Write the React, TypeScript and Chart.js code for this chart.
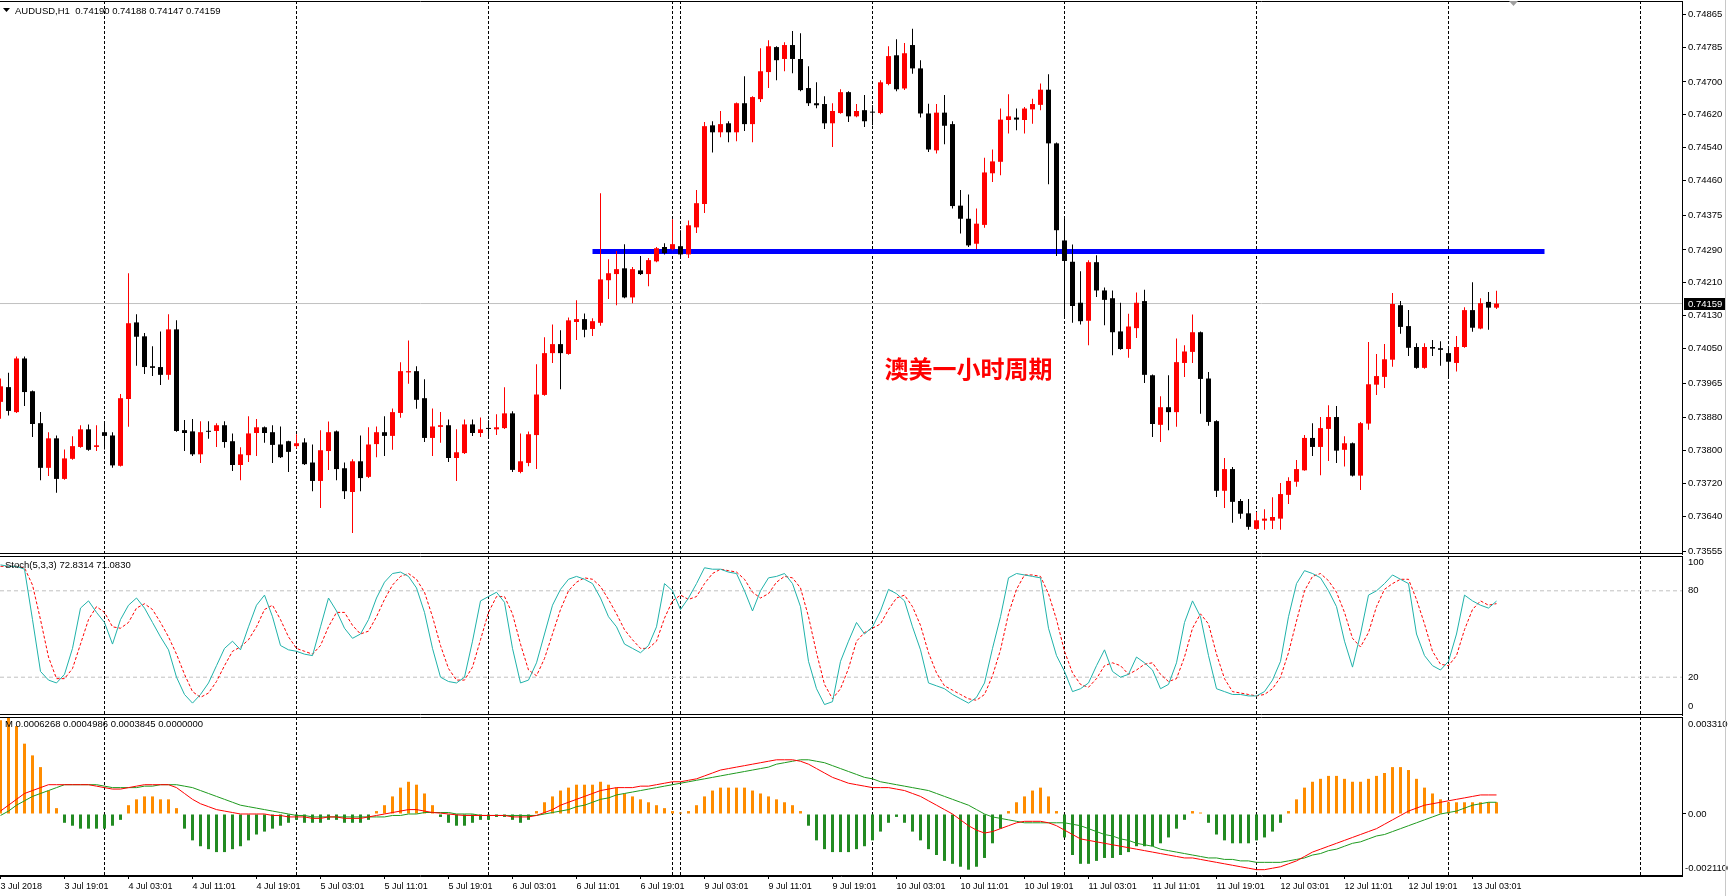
import React, { useEffect, useRef } from 'react';
import { Chart, registerables } from 'chart.js';

Chart.register(...registerables);

// ---------------- data ----------------
const opens = [0.73919,0.73955,0.73894,0.74025,0.73945,0.73867,0.73758,0.7383,0.73731,0.7378,
0.73809,0.73852,0.73809,0.73845,0.73837,0.73763,0.73926,0.74113,0.74079,0.74006,
0.74004,0.73985,0.74096,0.7385,0.73847,0.73791,0.73847,0.73848,0.73862,0.73823,
0.73765,0.73789,0.73843,0.73857,0.73845,0.73815,0.73823,0.73811,0.7382,0.73771,
0.73726,0.73799,0.73847,0.73757,0.73699,0.73774,0.73736,0.73816,0.73845,0.73836,
0.73892,0.73991,0.73994,0.73928,0.73831,0.73858,0.73862,0.73782,0.73794,0.73864,
0.73843,0.73854,0.73852,0.73855,0.73891,0.73748,0.7377,0.73838,0.73936,0.74038,
0.7406,0.74036,0.74114,0.74121,0.74097,0.74112,0.74216,0.74231,0.74245,0.74174,
0.7424,0.74231,0.74262,0.74297,0.74292,0.74299,0.74279,0.74345,0.74402,0.74594,
0.74577,0.74599,0.74577,0.74648,0.74597,0.74658,0.74724,0.74785,0.74756,0.7479,
0.74756,0.74685,0.74648,0.74646,0.74599,0.74624,0.74675,0.74616,0.74631,0.74627,
0.74624,0.74695,0.74765,0.74684,0.7479,0.74733,0.74623,0.74533,0.74625,0.74597,
0.74398,0.74366,0.74305,0.74351,0.74477,0.74505,0.74607,0.74613,0.74607,0.74633,
0.74644,0.74681,0.7455,0.74313,0.74261,0.74161,0.74117,0.7426,0.74191,0.74172,
0.74091,0.74048,0.74099,0.74165,0.73984,0.73863,0.73906,0.73894,0.74014,0.74041,
0.74089,0.73976,0.73872,0.73702,0.73755,0.73677,0.73647,0.73609,0.73629,0.73629,
0.73634,0.73692,0.73724,0.73752,0.73831,0.73809,0.73853,0.73882,0.73802,0.73818,
0.73739,0.73866,0.73961,0.7398,0.74022,0.74155,0.74104,0.74053,0.74002,0.74053,
0.7405,0.74038,0.74014,0.74053,0.74143,0.74098,0.74163,0.74149];

const highs = [0.73976,0.7399,0.7403,0.7403,0.73947,0.73894,0.73845,0.73837,0.73803,0.73835,
0.73862,0.73864,0.73862,0.73869,0.73845,0.73938,0.74233,0.74133,0.74087,0.74055,
0.74091,0.74133,0.74118,0.73875,0.73877,0.73872,0.73872,0.73867,0.73872,0.73842,
0.73808,0.73884,0.73877,0.73859,0.73862,0.73859,0.73824,0.7384,0.7383,0.73815,
0.7385,0.73871,0.73849,0.73771,0.73779,0.73837,0.73857,0.73859,0.73884,0.73903,
0.74016,0.74069,0.74006,0.73974,0.73903,0.73894,0.73876,0.73852,0.73876,0.73876,
0.73881,0.73874,0.73889,0.73955,0.73896,0.73842,0.73847,0.74011,0.74077,0.74108,
0.74094,0.74125,0.74167,0.74135,0.74123,0.74428,0.74267,0.74287,0.74304,0.74248,
0.74275,0.7427,0.74297,0.74306,0.74365,0.74338,0.74362,0.74436,0.74602,0.74604,
0.74629,0.74604,0.7465,0.74714,0.74665,0.74782,0.74802,0.74787,0.74797,0.74824,
0.74819,0.74738,0.74699,0.74665,0.74648,0.74682,0.74677,0.74646,0.74668,0.74643,
0.74704,0.74787,0.74804,0.74795,0.7483,0.74753,0.74647,0.74646,0.74668,0.74604,
0.74436,0.74425,0.74391,0.74515,0.74535,0.74635,0.7467,0.74635,0.74639,0.74659,
0.74696,0.74719,0.74552,0.74366,0.74303,0.74238,0.74265,0.74277,0.74198,0.74191,
0.74161,0.74134,0.74186,0.74193,0.73986,0.73933,0.73984,0.74074,0.74057,0.74132,
0.74091,0.73992,0.73874,0.73782,0.7376,0.73682,0.73682,0.7365,0.73657,0.73686,
0.73721,0.73735,0.73777,0.73838,0.73867,0.73882,0.73911,0.73909,0.73835,0.7382,
0.7387,0.74065,0.74036,0.7406,0.74185,0.74165,0.74143,0.74062,0.74062,0.7407,
0.74067,0.74048,0.7408,0.7415,0.74211,0.74172,0.74187,0.7419];

const lows = [0.73878,0.73886,0.73892,0.73909,0.73833,0.73728,0.73738,0.73697,0.73729,0.73778,
0.73807,0.738,0.73799,0.73803,0.73758,0.73761,0.73858,0.74007,0.73987,0.73982,
0.7396,0.73973,0.73846,0.73799,0.73787,0.7377,0.73829,0.73809,0.73807,0.7375,
0.73728,0.73772,0.73787,0.73819,0.7377,0.73782,0.73748,0.73805,0.73765,0.73701,
0.7366,0.73753,0.73728,0.73682,0.73599,0.73701,0.73733,0.73784,0.73787,0.73802,
0.7388,0.73963,0.73902,0.73821,0.73787,0.73819,0.73772,0.73726,0.73792,0.73836,
0.73833,0.73833,0.73838,0.73853,0.73748,0.73745,0.73762,0.73755,0.73934,0.74014,
0.7395,0.74034,0.7407,0.74077,0.7408,0.74105,0.7417,0.74155,0.74172,0.7416,
0.74229,0.74201,0.7426,0.74279,0.74289,0.74272,0.7427,0.74331,0.7438,0.74528,
0.74565,0.74553,0.74555,0.7458,0.74553,0.74651,0.74685,0.74704,0.74726,0.74721,
0.74677,0.74641,0.74636,0.74585,0.74541,0.74622,0.74602,0.74614,0.7459,0.74594,
0.74621,0.74692,0.74677,0.7468,0.7472,0.74613,0.74529,0.74525,0.74548,0.74391,
0.7433,0.74297,0.74292,0.74344,0.74456,0.74472,0.74574,0.74582,0.74574,0.74598,
0.74631,0.7445,0.74275,0.74124,0.74112,0.74108,0.74057,0.74175,0.74106,0.74033,
0.74046,0.74027,0.74075,0.73965,0.73833,0.73821,0.7385,0.73858,0.7398,0.74014,
0.7389,0.73861,0.73687,0.7366,0.73624,0.73634,0.73607,0.73607,0.73607,0.73609,
0.73607,0.7367,0.73712,0.73751,0.73787,0.7374,0.73775,0.7377,0.73761,0.73737,
0.73704,0.73851,0.73936,0.73953,0.74005,0.74085,0.74031,0.74,0.74,0.74031,
0.74007,0.73979,0.73993,0.74051,0.7409,0.74096,0.74095,0.74146];

const closes = [0.73957,0.73897,0.74025,0.73943,0.73865,0.73758,0.7383,0.73731,0.73781,0.73811,
0.73852,0.73802,0.73813,0.73836,0.73764,0.73928,0.74111,0.74078,0.74004,0.74002,
0.73985,0.74096,0.73848,0.73843,0.73791,0.73845,0.73846,0.73862,0.73821,0.73765,
0.73791,0.73842,0.73857,0.73843,0.73814,0.73784,0.73797,0.73818,0.73767,0.73726,
0.73801,0.73845,0.73755,0.73701,0.73774,0.73733,0.73815,0.73845,0.73836,0.73894,
0.73994,0.73994,0.73924,0.73831,0.73859,0.73862,0.73782,0.73796,0.73864,0.73843,
0.73852,0.73853,0.73857,0.73891,0.73753,0.73774,0.7384,0.73937,0.74038,0.7406,
0.74038,0.74118,0.74121,0.74095,0.74116,0.74218,0.74233,0.74243,0.74174,0.74243,
0.74231,0.74265,0.74294,0.74282,0.74304,0.74279,0.7435,0.74404,0.74592,0.74577,
0.74597,0.74577,0.74648,0.74597,0.74663,0.74726,0.74787,0.74753,0.7479,0.74756,
0.7468,0.74648,0.74643,0.74599,0.74629,0.74675,0.74616,0.74629,0.74604,0.74625,
0.74699,0.74763,0.74682,0.7477,0.74733,0.74623,0.74535,0.74625,0.74593,0.74397,
0.74366,0.74301,0.74354,0.74479,0.74506,0.74608,0.74616,0.74608,0.74635,0.74646,
0.74681,0.7455,0.74338,0.74263,0.74153,0.74116,0.7426,0.74191,0.74168,0.74089,
0.74048,0.74103,0.74161,0.73985,0.73865,0.73906,0.73894,0.74016,0.74042,0.74089,
0.73975,0.7387,0.73702,0.73755,0.73675,0.73646,0.73614,0.7363,0.73634,0.73638,
0.73694,0.73726,0.73755,0.73831,0.73809,0.73855,0.73882,0.738,0.73818,0.73739,
0.73867,0.73962,0.73982,0.74023,0.74158,0.74102,0.74051,0.74002,0.74053,0.74049,
0.74046,0.74017,0.74053,0.74143,0.741,0.7416,0.74149,0.74159];

const stochMain = [98,97,97,95,60,24,18,16,22,40,
68,73,65,58,43,60,70,75,68,58,
48,39,20,8,2,8,16,28,40,45,
39,55,70,77,62,42,39,38,36,35,
55,75,66,54,47,50,60,75,86,92,
93,90,82,65,40,20,17,16,20,45,
73,76,79,72,40,16,18,30,50,70,
81,88,90,88,85,75,62,55,43,40,
37,42,55,85,80,67,75,85,96,95,
95,93,92,80,66,80,89,90,92,85,
69,31,12,1,3,31,45,58,50,55,
66,81,78,73,55,39,16,14,12,8,
5,2,6,16,40,62,89,92,91,90,
89,54,35,24,10,12,16,28,39,24,
20,22,34,30,25,12,15,30,58,73,
62,35,12,10,8,8,7,7,10,18,
31,62,85,94,92,89,80,69,45,27,
50,77,80,85,91,88,85,50,35,28,
25,31,50,77,73,70,68,72.83];

const stochSignal = [97,97,97,96,84,60,34,19,19,26,
43,60,69,65,55,54,58,68,71,67,
58,48,36,22,10,6,9,17,28,38,
41,46,55,67,70,60,48,40,38,36,
42,55,65,65,56,50,52,62,74,84,
90,92,88,79,62,42,26,18,18,27,
46,65,76,76,64,43,25,21,33,50,
67,80,86,89,88,83,74,64,53,46,
40,40,45,61,73,77,74,76,85,92,
95,94,93,88,79,75,78,86,90,89,
82,62,37,15,5,12,26,45,51,54,
57,67,75,77,69,56,37,23,14,11,
8,5,4,8,21,39,64,81,91,91,
90,78,60,38,23,15,13,19,28,30,
28,22,25,29,30,22,17,19,34,54,
64,57,36,19,10,9,8,7,8,12,
20,37,59,80,90,92,87,79,65,47,
41,51,69,81,85,88,88,74,57,38,
29,28,35,53,67,73,70,71.08];

const macdHist = [0.0032,0.0033,0.003,0.0024,0.002,0.0016,0.0008,0.0002,-0.0003,-0.0004,
-0.0005,-0.0005,-0.0005,-0.0005,-0.0004,-0.0002,0.0003,0.0005,0.0006,0.0006,
0.0005,0.0005,0.0002,-0.0005,-0.0009,-0.0011,-0.0012,-0.0013,-0.0013,-0.0012,
-0.0011,-0.0009,-0.0007,-0.0006,-0.0005,-0.0004,-0.0003,-0.0002,-0.0003,-0.0003,
-0.0003,-0.0002,-0.0002,-0.0003,-0.0003,-0.0003,-0.0002,0.0001,0.0003,0.0006,
0.0009,0.0011,0.001,0.0007,0.0003,-0.0001,-0.0003,-0.0004,-0.0004,-0.0003,
-0.0002,-0.0002,-0.0001,-0.0001,-0.0002,-0.0003,-0.0002,0.0001,0.0004,0.0006,
0.0008,0.0009,0.001,0.001,0.001,0.0011,0.001,0.0009,0.0007,0.0006,
0.0005,0.0004,0.0003,0.0002,0.0001,0.00005,0.0001,0.0003,0.0006,0.0008,
0.0009,0.0009,0.0009,0.0009,0.0008,0.0007,0.0006,0.0005,0.0004,0.0003,
0.0001,-0.0004,-0.0009,-0.0012,-0.0013,-0.0013,-0.0013,-0.0012,-0.0011,-0.0009,
-0.0006,-0.0003,-0.0001,-0.0003,-0.0006,-0.0009,-0.0012,-0.0014,-0.0016,-0.0017,
-0.0018,-0.0019,-0.0018,-0.0015,-0.001,-0.0005,0.0001,0.0004,0.0006,0.0008,
0.0009,0.0006,0.0001,-0.0008,-0.0014,-0.0017,-0.0017,-0.0016,-0.0015,-0.0015,
-0.0014,-0.0013,-0.0011,-0.0011,-0.0011,-0.001,-0.0008,-0.0005,-0.0002,0.0001,
0.00005,-0.0003,-0.0007,-0.0009,-0.001,-0.001,-0.001,-0.0009,-0.0008,-0.0006,
-0.0003,0.0001,0.0005,0.0009,0.0011,0.0012,0.0013,0.0013,0.0012,0.0011,
0.0011,0.0012,0.0013,0.0014,0.0016,0.0016,0.0015,0.0012,0.0009,0.0007,
0.0005,0.0004,0.0004,0.0004,0.0004,0.0004,0.0004,0.0004];

const macdMain = [0.0001,0.0003,0.0005,0.0007,0.0008,0.0009,0.001,0.001,0.001,0.001,
0.001,0.001,0.00095,0.0009,0.00085,0.00085,0.0009,0.00095,0.001,0.001,
0.001,0.001,0.0009,0.0007,0.0005,0.00035,0.00025,0.00015,0.0001,0.00005,
0,0,0,0,-0.00005,-0.00005,-0.0001,-0.0001,-0.0001,-0.00015,
-0.00015,-0.0001,-0.0001,-0.00015,-0.00015,-0.00015,-0.0001,-0.00005,0,0.00005,
0.0001,0.00015,0.00015,0.0001,0.00005,0.00003,0,-0.00003,-0.00005,-0.00005,
-0.00005,-0.00005,-0.00005,-0.00005,-0.0001,-0.0001,-0.0001,-0.00005,0.00005,0.00015,
0.0003,0.0004,0.0005,0.0006,0.0007,0.0008,0.00085,0.0009,0.0009,0.0009,
0.00095,0.00095,0.001,0.00105,0.0011,0.0011,0.00115,0.0012,0.0013,0.0014,
0.0015,0.00155,0.0016,0.00165,0.0017,0.00175,0.0018,0.00185,0.00185,0.00185,
0.0018,0.0017,0.00155,0.0014,0.00125,0.00115,0.00105,0.001,0.00095,0.0009,
0.0009,0.0009,0.00085,0.0008,0.0007,0.0006,0.00045,0.0003,0.00015,0,
-0.0002,-0.0004,-0.00055,-0.00065,-0.0006,-0.0005,-0.0004,-0.0003,-0.00025,-0.00025,
-0.00025,-0.0003,-0.0004,-0.00055,-0.0007,-0.00085,-0.0009,-0.00095,-0.001,-0.00105,
-0.0011,-0.00115,-0.0012,-0.00125,-0.0013,-0.00135,-0.0014,-0.00145,-0.0015,-0.0015,
-0.00155,-0.0016,-0.00165,-0.0017,-0.00175,-0.0018,-0.00185,-0.0019,-0.0019,-0.00185,
-0.0018,-0.0017,-0.0016,-0.00145,-0.0013,-0.0012,-0.0011,-0.001,-0.0009,-0.0008,
-0.0007,-0.0006,-0.0005,-0.00035,-0.0002,-0.00005,0.0001,0.0002,0.0003,0.00035,
0.0004,0.00045,0.0005,0.00055,0.0006,0.00065,0.00065,0.00065];

const macdSignal = [-0.00005,0.0001,0.0003,0.00045,0.0006,0.0007,0.0008,0.0009,0.001,0.001,
0.001,0.001,0.001,0.00095,0.0009,0.0009,0.0009,0.0009,0.00095,0.00095,
0.001,0.001,0.001,0.00095,0.0009,0.0008,0.0007,0.0006,0.0005,0.0004,
0.0003,0.00025,0.0002,0.00015,0.0001,0.00005,0,-0.00005,-0.00005,-0.0001,
-0.0001,-0.0001,-0.0001,-0.0001,-0.0001,-0.0001,-0.0001,-0.0001,-0.0001,-0.00005,
-0.00005,0,0,0.00005,0.00005,0.00005,0.00005,0,0,0,
-0.00005,-0.00005,-0.00005,-0.00005,-0.00005,-0.00005,-0.00005,-0.00005,0,0.00005,
0.0001,0.00015,0.00025,0.0003,0.0004,0.0005,0.00055,0.00065,0.0007,0.00075,
0.0008,0.00085,0.0009,0.00095,0.001,0.00105,0.0011,0.00115,0.0012,0.00125,
0.0013,0.00135,0.0014,0.00145,0.0015,0.00155,0.0016,0.0017,0.00175,0.0018,
0.00185,0.00185,0.0018,0.00175,0.00165,0.00155,0.00145,0.00135,0.00125,0.0012,
0.0011,0.00105,0.001,0.00095,0.0009,0.00085,0.0008,0.0007,0.0006,0.0005,
0.0004,0.0003,0.00015,0,-0.0001,-0.00015,-0.0002,-0.00025,-0.0003,-0.0003,
-0.0003,-0.0003,-0.0003,-0.0003,-0.00035,-0.0004,-0.0005,-0.0006,-0.0007,-0.00075,
-0.00085,-0.0009,-0.001,-0.00105,-0.0011,-0.0012,-0.00125,-0.0013,-0.00135,-0.0014,
-0.00145,-0.0015,-0.0015,-0.00155,-0.00155,-0.0016,-0.0016,-0.00165,-0.00165,-0.00165,
-0.00165,-0.0016,-0.00155,-0.0015,-0.0014,-0.00135,-0.00125,-0.0012,-0.0011,-0.001,
-0.00095,-0.00085,-0.00075,-0.0007,-0.0006,-0.0005,-0.0004,-0.0003,-0.0002,-0.0001,
0,0.00005,0.0001,0.0002,0.0003,0.00035,0.0004,0.0004];

const priceTicks = [0.74865,0.74785,0.747,0.7462,0.7454,0.7446,0.74375,0.7429,0.7421,0.7413,0.7405,0.73965,0.7388,0.738,0.7372,0.7364,0.73555];
const stochTicks = [0, 20, 80, 100];
const stochLevels = [20, 80];
const macdTicks = [0];
const timeLabels = ['3 Jul 2018','3 Jul 19:01','4 Jul 03:01','4 Jul 11:01','4 Jul 19:01','5 Jul 03:01','5 Jul 11:01','5 Jul 19:01','6 Jul 03:01','6 Jul 11:01','6 Jul 19:01','9 Jul 03:01','9 Jul 11:01','9 Jul 19:01','10 Jul 03:01','10 Jul 11:01','10 Jul 19:01','11 Jul 03:01','11 Jul 11:01','11 Jul 19:01','12 Jul 03:01','12 Jul 11:01','12 Jul 19:01','13 Jul 03:01'];
const timeLabelBars = [0,8,16,24,32,40,48,56,64,72,80,88,96,104,112,120,128,136,144,152,160,168,176,184];
const daySeparators = [13,37,61,84,85,109,133,157,181,205];
const bidPrice = 0.74159;
const trendBars = [74, 193];
const trendPrice = 0.74286;
const noteText = '澳美一小时周期';
const noteBar = 110.5;
const notePrice = 0.74;
const headerText = 'AUDUSD,H1  0.74190 0.74188 0.74147 0.74159';
const stochText = 'Stoch(5,3,3) 72.8314 71.0830';
const macdText = 'M 0.0006268 0.0004986 0.0003845 0.0000000';
const macdMaxLabel = '0.0033100';
const macdMinLabel = '-0.0021100';

// ---------------- layout / style ----------------
const CANVAS_W = 1728;
const AXIS_W = 46;
const BAR_PX = 8;
const X_MIN = -1 / 16;
const X_MAX = X_MIN + (CANVAS_W - AXIS_W) / BAR_PX;
const FONT = '"Liberation Sans", Arial, sans-serif';
const UP = '#FF0000';
const DOWN = '#000000';

const PRICE_MIN = 0.735477;
const PRICE_MAX = 0.748975;
const STOCH_MIN = -6.25;
const STOCH_MAX = 104.17;
const MACD_MIN = -0.002116;
const MACD_MAX = 0.00331;

function xScale(show: boolean): any {
  return {
    type: 'linear',
    min: X_MIN,
    max: X_MAX,
    offset: false,
    display: show,
    afterFit: (s: any) => {
      s.paddingLeft = 0;
      s.paddingRight = 0;
      if (show) s.height = 20;
    },
    afterBuildTicks: (s: any) => {
      s.ticks = timeLabelBars.map((v) => ({ value: v }));
    },
    grid: { display: show, offset: false, drawOnChartArea: false, drawTicks: true, tickLength: 3, color: '#000' },
    border: { display: show, color: '#000', width: 1 },
    ticks: {
      autoSkip: false,
      maxRotation: 0,
      minRotation: 0,
      align: 'start',
      padding: 2,
      color: '#000',
      font: { family: FONT, size: 9 },
      callback: (_v: any, idx: number) => timeLabels[idx],
    },
  };
}

function yScale(min: number, max: number, ticks: number[], fmt: (v: number) => string, tickMarks: boolean): any {
  return {
    position: 'right',
    min,
    max,
    afterFit: (s: any) => {
      s.width = AXIS_W;
      s.paddingTop = 0;
      s.paddingBottom = 0;
    },
    afterBuildTicks: (s: any) => {
      s.ticks = ticks.map((v) => ({ value: v }));
    },
    grid: { drawOnChartArea: false, drawTicks: tickMarks, tickLength: 4, color: '#000' },
    border: { display: true, color: '#000', width: 1 },
    ticks: {
      autoSkip: false,
      crossAlign: 'near',
      padding: tickMarks ? 2 : 6,
      color: '#000',
      font: { family: FONT, size: 9.5 },
      callback: (v: any) => fmt(Number(v)),
    },
  };
}

const separatorPlugin = {
  id: 'mt4Separators',
  beforeDatasetsDraw(chart: any) {
    const { ctx, chartArea: a, scales } = chart;
    ctx.save();
    ctx.beginPath();
    ctx.rect(a.left, a.top, a.right - a.left, a.bottom - a.top);
    ctx.clip();
    ctx.strokeStyle = '#000';
    ctx.lineWidth = 1;
    ctx.setLineDash([3, 2]);
    for (const b of daySeparators) {
      const x = Math.floor(scales.x.getPixelForValue(b)) + 0.5;
      ctx.beginPath();
      ctx.moveTo(x, a.top);
      ctx.lineTo(x, a.bottom);
      ctx.stroke();
    }
    ctx.restore();
  },
};

const framePlugin = {
  id: 'mt4Frame',
  afterDraw(chart: any) {
    const { ctx, chartArea: a } = chart;
    ctx.save();
    ctx.strokeStyle = '#000';
    ctx.lineWidth = 1;
    ctx.beginPath();
    ctx.moveTo(0, Math.round(a.top) + 0.5);
    ctx.lineTo(a.right, Math.round(a.top) + 0.5);
    ctx.moveTo(0, Math.round(a.bottom) - 0.5);
    ctx.lineTo(a.right, Math.round(a.bottom) - 0.5);
    ctx.stroke();
    ctx.restore();
  },
};

function headerPlugin(text: string, y: number, x: number, arrow: boolean) {
  return {
    id: 'mt4Header' + text.length,
    afterDraw(chart: any) {
      const { ctx } = chart;
      ctx.save();
      ctx.fillStyle = '#000';
      if (arrow) {
        ctx.beginPath();
        ctx.moveTo(3, y - 3);
        ctx.lineTo(10, y - 3);
        ctx.lineTo(6.5, y + 1);
        ctx.closePath();
        ctx.fill();
      }
      ctx.font = `9.5px ${FONT}`;
      ctx.textBaseline = 'middle';
      ctx.textAlign = 'left';
      ctx.fillText(text, x, y);
      ctx.restore();
    },
  };
}

const priceOverlayPlugin = {
  id: 'priceOverlay',
  afterDraw(chart: any) {
    const { ctx, scales, chartArea: a } = chart;
    ctx.save();
    // annotation text
    ctx.font = `bold 24px "Noto Sans CJK SC", sans-serif`;
    ctx.fillStyle = '#FF0000';
    ctx.textBaseline = 'middle';
    ctx.textAlign = 'left';
    ctx.fillText(noteText, scales.x.getPixelForValue(noteBar), scales.y.getPixelForValue(notePrice));
    // bid label on the axis
    const by = scales.y.getPixelForValue(bidPrice);
    ctx.fillStyle = '#000';
    ctx.fillRect(a.right + 2, Math.round(by) - 6, 42, 12);
    ctx.fillStyle = '#fff';
    ctx.font = `9.5px ${FONT}`;
    ctx.fillText(bidPrice.toFixed(5), a.right + 6, Math.round(by));
    // chart shift marker
    ctx.fillStyle = '#A0A0A0';
    ctx.beginPath();
    ctx.moveTo(1509, 1);
    ctx.lineTo(1518, 1);
    ctx.lineTo(1513.5, 6);
    ctx.closePath();
    ctx.fill();
    ctx.restore();
  },
};

const macdOverlayPlugin = {
  id: 'macdOverlay',
  afterDraw(chart: any) {
    const { ctx, chartArea: a } = chart;
    ctx.save();
    ctx.fillStyle = '#000';
    ctx.font = `9.5px ${FONT}`;
    ctx.textAlign = 'left';
    ctx.textBaseline = 'middle';
    ctx.fillText(macdMaxLabel, a.right + 6, a.top + 7);
    ctx.fillText(macdMinLabel, a.right + 3, a.bottom - 8);
    ctx.restore();
  },
};

const baseOptions = (padBottom: number): any => ({
  responsive: false,
  animation: false,
  events: [],
  layout: { padding: { top: 1, bottom: padBottom, left: 0, right: 0 } },
  plugins: { legend: { display: false }, tooltip: { enabled: false }, title: { display: false } },
});

export default function App() {
  const priceRef = useRef<HTMLCanvasElement>(null);
  const stochRef = useRef<HTMLCanvasElement>(null);
  const macdRef = useRef<HTMLCanvasElement>(null);

  useEffect(() => {
    const charts: any[] = [];
    const candleColors = opens.map((o, i) => (closes[i] >= o ? UP : DOWN));

    charts.push(
      new Chart(priceRef.current as HTMLCanvasElement, {
        type: 'bar',
        data: {
          datasets: [
            {
              type: 'bar',
              label: 'body',
              data: opens.map((o, i) => ({ x: i, y: [o, closes[i]] })) as any,
              backgroundColor: candleColors,
              borderWidth: 0,
              barThickness: 5,
              minBarLength: 1,
              grouped: false,
              inflateAmount: 0,
              order: 0,
            } as any,
            {
              type: 'bar',
              label: 'wick',
              data: lows.map((l, i) => ({ x: i, y: [l, highs[i]] })) as any,
              backgroundColor: candleColors,
              borderWidth: 0,
              barThickness: 1,
              grouped: false,
              inflateAmount: 0,
              order: 1,
            } as any,
            {
              type: 'line',
              label: 'trend',
              data: trendBars.map((b) => ({ x: b, y: trendPrice })),
              borderColor: '#0000FF',
              borderWidth: 5,
              pointRadius: 0,
              order: 2,
            } as any,
            {
              type: 'line',
              label: 'bid',
              data: [{ x: X_MIN, y: bidPrice }, { x: X_MAX, y: bidPrice }],
              borderColor: '#C0C0C0',
              borderWidth: 1,
              pointRadius: 0,
              order: 3,
            } as any,
          ],
        },
        options: {
          ...baseOptions(1),
          scales: {
            x: xScale(false),
            y: yScale(PRICE_MIN, PRICE_MAX, priceTicks, (v) => v.toFixed(5), true),
          },
        },
        plugins: [separatorPlugin, framePlugin, priceOverlayPlugin, headerPlugin(headerText, 11, 15, true)],
      } as any)
    );

    charts.push(
      new Chart(stochRef.current as HTMLCanvasElement, {
        type: 'line',
        data: {
          datasets: [
            {
              label: 'main',
              data: stochMain.map((v, i) => ({ x: i, y: v })),
              borderColor: '#20B2AA',
              borderWidth: 1,
              pointRadius: 0,
              tension: 0,
              order: 0,
            },
            {
              label: 'signal',
              data: stochSignal.map((v, i) => ({ x: i, y: v })),
              borderColor: '#FF0000',
              borderWidth: 1,
              borderDash: [3, 2],
              pointRadius: 0,
              tension: 0,
              order: 1,
            },
            ...stochLevels.map((lv) => ({
              label: 'level' + lv,
              data: [{ x: X_MIN, y: lv }, { x: X_MAX, y: lv }],
              borderColor: '#C0C0C0',
              borderWidth: 1,
              borderDash: [4, 3],
              pointRadius: 0,
              order: 5,
            })),
          ],
        },
        options: {
          ...baseOptions(1),
          scales: {
            x: xScale(false),
            y: yScale(STOCH_MIN, STOCH_MAX, stochTicks, (v) => String(Math.round(v)), false),
          },
        },
        plugins: [separatorPlugin, framePlugin, headerPlugin(stochText, 10, 5, false)],
      } as any)
    );

    charts.push(
      new Chart(macdRef.current as HTMLCanvasElement, {
        type: 'bar',
        data: {
          datasets: [
            {
              type: 'line',
              label: 'main',
              data: macdMain.map((v, i) => ({ x: i, y: v })),
              borderColor: '#FF0000',
              borderWidth: 1,
              pointRadius: 0,
              tension: 0,
              order: 0,
            } as any,
            {
              type: 'line',
              label: 'signal',
              data: macdSignal.map((v, i) => ({ x: i, y: v })),
              borderColor: '#1E9A1E',
              borderWidth: 1,
              pointRadius: 0,
              tension: 0,
              order: 1,
            } as any,
            {
              type: 'bar',
              label: 'hist',
              data: macdHist.map((v, i) => ({ x: i, y: v })),
              backgroundColor: macdHist.map((v) => (v >= 0 ? '#FF8C00' : '#228B22')),
              borderWidth: 0,
              barThickness: 3,
              grouped: false,
              inflateAmount: 0,
              order: 2,
            } as any,
          ],
        },
        options: {
          ...baseOptions(0),
          scales: {
            x: xScale(true),
            y: yScale(MACD_MIN, MACD_MAX, macdTicks, () => '0.00', true),
          },
        },
        plugins: [separatorPlugin, framePlugin, macdOverlayPlugin, headerPlugin(macdText, 8, 5, false)],
      } as any)
    );

    return () => {
      charts.forEach((c) => c.destroy());
    };
  }, []);

  return (
    <div style={{ position: 'fixed', left: 0, top: 0, width: 1728, height: 896, background: '#fff', overflow: 'hidden' }}>
      <canvas ref={priceRef} width={1728} height={555} style={{ position: 'absolute', left: 0, top: 0 }} />
      <canvas ref={stochRef} width={1728} height={161} style={{ position: 'absolute', left: 0, top: 555 }} />
      <canvas ref={macdRef} width={1728} height={180} style={{ position: 'absolute', left: 0, top: 716 }} />
      <div style={{ position: 'absolute', left: 1725, top: 0, width: 1, height: 896, background: '#C8C8C8' }} />
    </div>
  );
}
